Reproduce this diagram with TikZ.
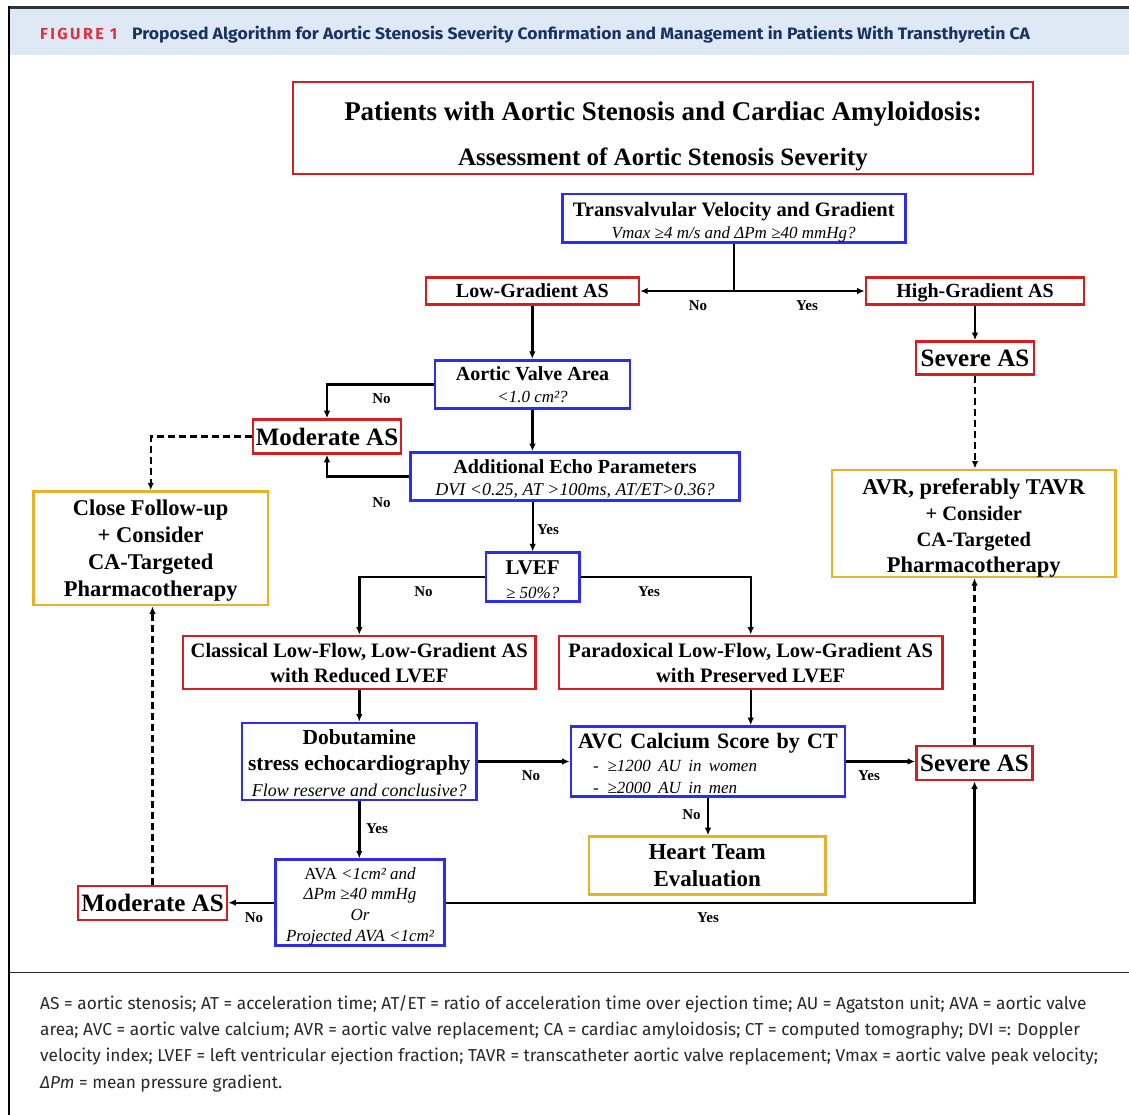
\documentclass[tikz,border=0pt]{standalone}
\usepackage{fontspec}
\setmainfont{Liberation Serif}
\newfontfamily\capfont{Fira Sans}
\newfontfamily\headfont{Fira Sans}
\usetikzlibrary{arrows.meta}
\definecolor{boxred}{RGB}{212,30,38}
\definecolor{boxblue}{RGB}{45,45,235}
\definecolor{boxgold}{RGB}{232,178,40}
\definecolor{bandblue}{RGB}{222,233,245}
\definecolor{figred}{RGB}{228,48,60}
\definecolor{navy}{RGB}{24,50,98}
\definecolor{captext}{RGB}{40,40,40}
\newcommand{\fsz}[2]{\fontsize{#1}{#2}\selectfont}
\begin{document}
\begin{tikzpicture}[x=1pt,y=-1pt,
  bx/.style={draw, line width=2.6pt, fill=white, inner sep=0pt, align=center},
  rbx/.style={bx, draw=boxred, text depth=0pt},
  bbx/.style={bx, draw=boxblue, text depth=0pt},
  gbx/.style={bx, draw=boxgold, text depth=0pt},
  conn/.style={draw=black, line width=2.4pt, -{Latex[length=7.5pt,width=6.5pt]}},
  dconn/.style={conn, dash pattern=on 7pt off 4pt},
  lbl/.style={inner sep=0pt, font=\bfseries\fsz{15}{15}},
  capline/.style={anchor=base west, inner sep=0pt, font=\capfont\fsz{17.3}{17.3}, text=captext},
]
\useasboundingbox (0,0) rectangle (1129,1115);
\fill[white] (0,0) rectangle (1129,1115);
% header and frame
\fill[bandblue] (8.5,8.5) rectangle (1129,55);
\draw[line width=2.2pt, black!80] (7.5,7.6) -- (1129,7.6);
\draw[line width=2.2pt, black] (8.6,6.5) -- (8.6,1115);
\draw[line width=1.6pt, black!85] (8.6,972.5) -- (1129,972.5);
\node[anchor=base west, inner sep=0pt, text=figred, font=\headfont\bfseries\fsz{16}{16}\addfontfeature{LetterSpace=15}] (fig) at (40,39.5) {FIGURE 1};
\node[anchor=base west, inner sep=0pt, text=navy, font=\headfont\bfseries\fsz{16.5}{16.5}] (head) at (132,39.5) {\scalebox{1.063}[1]{Proposed Algorithm for Aortic Stenosis Severity Confirmation and Management in Patients With Transthyretin CA}};

% title
\node[rbx, minimum width=740pt, minimum height=92pt] (title) at (663,128) {};
\node[inner sep=0pt, align=center, font=\bfseries\fsz{27}{45}] (titletext) at (663,136) {Patients with Aortic Stenosis and Cardiac Amyloidosis:\\\fsz{25}{45}Assessment of Aortic Stenosis Severity};

% boxes
\node[bbx, minimum width=343pt, minimum height=48.5pt, font=\bfseries\fsz{20.5}{22}] (tv) at (733.7,218.4) {\rule{0pt}{18pt}Transvalvular Velocity and Gradient\\\mdseries\itshape\fsz{17}{22}Vmax ≥4 m/s and ΔPm ≥40 mmHg?};
\node[rbx, minimum width=213pt, minimum height=27pt, font=\bfseries\fsz{20}{20}] (low) at (532.3,291) {Low-Gradient AS};
\node[rbx, minimum width=218pt, minimum height=27pt, font=\bfseries\fsz{20}{20}] (high) at (975,291) {High-Gradient AS};
\node[rbx, minimum width=118pt, minimum height=33pt, font=\bfseries\fsz{25}{25}] (sev1) at (975,358) {Severe AS};
\node[bbx, minimum width=195pt, minimum height=48.5pt, font=\bfseries\fsz{20}{22}] (ava) at (532.5,384.5) {Aortic Valve Area\\\mdseries\itshape\fsz{17}{22}<1.0 cm²?};
\node[rbx, minimum width=148pt, minimum height=34pt, font=\bfseries\fsz{25}{25}] (mod1) at (327,436.5) {Moderate AS};
\node[bbx, minimum width=329pt, minimum height=48pt, font=\bfseries\fsz{20}{22}] (echo) at (575,476.5) {\rule{0pt}{16pt}Additional Echo Parameters\\\mdseries\itshape\fsz{18}{22}DVI <0.25, AT >100ms, AT/ET>0.36?};
\node[gbx, minimum width=234.5pt, minimum height=113.5pt, font=\bfseries\fsz{22.5}{27}] (close) at (150.7,548.3) {Close Follow-up\\+ Consider\\CA-Targeted\\Pharmacotherapy};
\node[gbx, minimum width=283.5pt, minimum height=107pt, font=\bfseries\fsz{22.5}{26}] (avr) at (973.8,523.3) {\rule{0pt}{20pt}AVR, preferably TAVR\\\fsz{20.5}{27}+ Consider\\\fsz{20.5}{25.5}CA-Targeted\\Pharmacotherapy};
\node[bbx, minimum width=93.5pt, minimum height=48.5pt, font=\bfseries\fsz{21}{24.5}] (lvef) at (532.7,577) {\rule{0pt}{18.5pt}LVEF\\\mdseries\itshape\fsz{17}{24.5}≥ 50\%?};
\node[rbx, minimum width=352.5pt, minimum height=53pt, font=\bfseries\fsz{20.5}{25}] (classical) at (359.3,662.4) {Classical Low-Flow, Low-Gradient AS\\with Reduced LVEF};
\node[rbx, minimum width=383.5pt, minimum height=53pt, font=\bfseries\fsz{20.5}{25}] (para) at (750.7,662.4) {Paradoxical Low-Flow, Low-Gradient AS\\with Preserved LVEF};
\node[bbx, minimum width=234.5pt, minimum height=77pt, font=\bfseries\fsz{21.5}{26}] (dobut) at (359.3,761.5) {\rule{0pt}{17pt}Dobutamine\\stress echocardiography\\\mdseries\itshape\fsz{18}{21}Flow reserve and conclusive?};
\node[bx, draw=boxblue, minimum width=274pt, minimum height=70pt, align=left, text width=274pt, font=\bfseries\fsz{22}{22}] (avc) at (708,761.5) {\rule{0pt}{19pt}\makebox[274pt][c]{AVC Calcium Score by CT}\\\mdseries\itshape\fsz{17}{23}\hspace*{22pt}-\hspace{9pt}≥1200 AU in women\\\fsz{17}{21}\hspace*{22pt}-\hspace{9pt}≥2000 AU in men};
\node[rbx, minimum width=116pt, minimum height=34pt, font=\bfseries\fsz{25}{25}] (sev2) at (974.5,763) {Severe AS};
\node[gbx, minimum width=236.5pt, minimum height=58pt, font=\bfseries\fsz{23}{27}] (heart) at (707.2,865.5) {Heart Team\\Evaluation};
\node[bbx, minimum width=169pt, minimum height=86pt, font=\mdseries\itshape\fsz{17}{20.7}] (avabox) at (360,902.7) {\rule{0pt}{15pt}\upshape AVA \itshape <1cm² and\\ΔPm ≥40 mmHg\\Or\\Projected AVA <1cm²};
\node[rbx, minimum width=149pt, minimum height=34pt, font=\bfseries\fsz{25}{25}] (mod2) at (152.5,903) {Moderate AS};

% connectors
\coordinate (split) at (tv.south |- low.east);
\draw[line width=2.4pt] (tv.south) -- (split);
\draw[conn] (split) -- (low.east);
\draw[conn] (split) -- (high.west);
\draw[conn] (high.south) -- (sev1.north);
\draw[dconn] (sev1.south) -- (sev1.south |- avr.north);
\draw[conn] (low.south) -- (low.south |- ava.north);
\draw[conn] (ava.west) -| (mod1.north);
\draw[conn] (ava.south) -- (ava.south |- echo.north);
\draw[conn] (echo.west) -| (mod1.south);
\draw[dconn] (mod1.west) -| (close.north);
\draw[conn] (lvef.north |- echo.south) -- (lvef.north);
\draw[conn] (lvef.west) -| (classical.north);
\draw[conn] (lvef.east) -| (para.north);
\draw[conn] (classical.south) -- (classical.south |- dobut.north);
\draw[conn] (para.south) -- (para.south |- avc.north);
\draw[conn] (dobut.east) -- (dobut.east -| avc.west);
\draw[conn] (avc.east) -- (avc.east -| sev2.west);
\draw[conn] (avc.south) -- (avc.south |- heart.north);
\draw[dconn] (sev2.north) -- (sev2.north |- avr.south);
\draw[conn] (dobut.south) -- (dobut.south |- avabox.north);
\draw[conn] (avabox.west) -- (avabox.west -| mod2.east);
\draw[conn] (avabox.east) -| (sev2.south);
\draw[dconn] (mod2.north) -- (mod2.north |- close.south);

% labels
\node[lbl] (l1) at (698,305.5) {No};
\node[lbl] (l2) at (807,305.5) {Yes};
\node[lbl] (l3) at (381.5,399) {No};
\node[lbl] (l4) at (381.5,503) {No};
\node[lbl] (l5) at (548,529.5) {Yes};
\node[lbl] (l6) at (423.5,591.5) {No};
\node[lbl] (l7) at (649,591.5) {Yes};
\node[lbl] (l8) at (531,776) {No};
\node[lbl] (l9) at (869,776) {Yes};
\node[lbl] (l10) at (691.5,815) {No};
\node[lbl] (l11) at (377,829) {Yes};
\node[lbl] (l12) at (254,918) {No};
\node[lbl] (l13) at (708,918) {Yes};

% caption
\node[capline] (cap1) at (40,1009.5) {AS = aortic stenosis; AT = acceleration time; AT/ET = ratio of acceleration time over ejection time; AU = Agatston unit; AVA = aortic valve};
\node[capline] (cap2) at (40,1035.5) {area; AVC = aortic valve calcium; AVR = aortic valve replacement; CA = cardiac amyloidosis; CT = computed tomography; DVI =: Doppler};
\node[capline] (cap3) at (40,1061.5) {velocity index; LVEF = left ventricular ejection fraction; TAVR = transcatheter aortic valve replacement; Vmax = aortic valve peak velocity;};
\node[capline] (cap4) at (40,1088) {{\itshape ΔPm} = mean pressure gradient.};
\end{tikzpicture}
\end{document}
